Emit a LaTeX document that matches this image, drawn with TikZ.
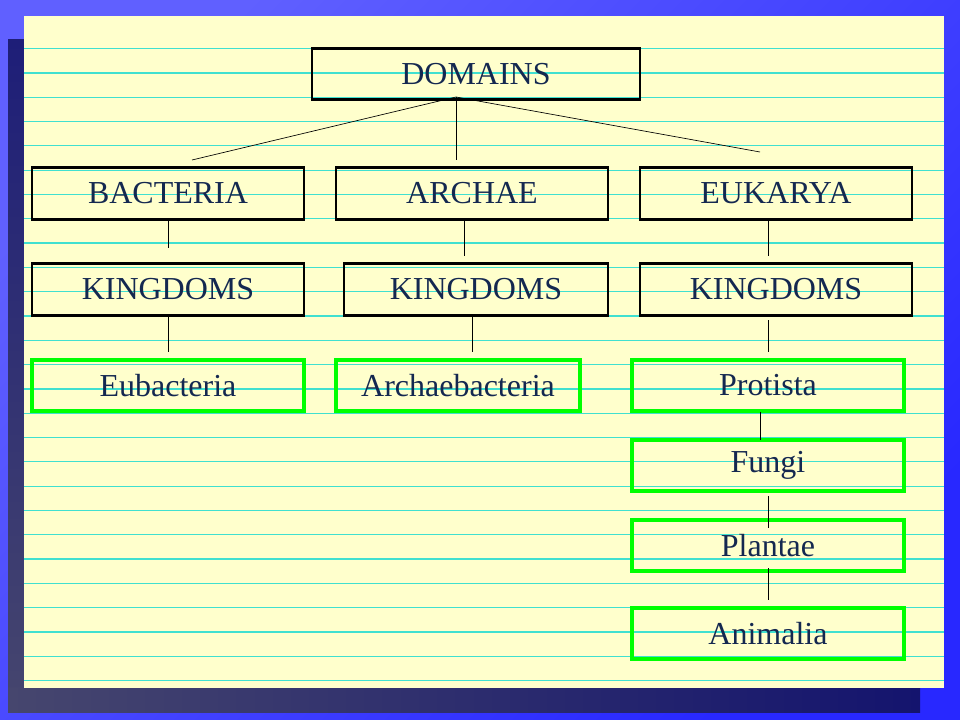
\documentclass[tikz,border=0pt]{standalone}
\usepackage{fontspec}
\setmainfont{Liberation Serif}
\definecolor{txt}{RGB}{20,40,80}
\definecolor{paper}{RGB}{255,255,204}
\definecolor{rule}{RGB}{64,224,208}
\definecolor{grn}{RGB}{0,255,0}
\begin{document}
\begin{tikzpicture}[x=0.75pt,y=-0.75pt,
  bx/.style={draw=black,line width=2.2pt,minimum height=38.5pt,font=\fontsize{24}{27}\selectfont,text=txt,inner sep=0pt},
  gb/.style={bx,draw=grn,line width=3pt},
  cn/.style={draw=black,line width=0.5pt}]
\useasboundingbox (0,0) rectangle (960,720);
\shade[shading=axis,left color={rgb,255:red,96;green,96;blue,255},right color={rgb,255:red,40;green,40;blue,255},shading angle=45] (0,0) rectangle (960,720);
\shade[top color={rgb,255:red,30;green,30;blue,120},bottom color={rgb,255:red,70;green,70;blue,110}] (8,40) rectangle (24,712);
\shade[left color={rgb,255:red,70;green,70;blue,110},right color={rgb,255:red,20;green,20;blue,110}] (8,688) rectangle (920,712);
\fill[paper] (24,16) rectangle (944,688);
\foreach \i in {0,...,26} \draw[rule,line width=0.9pt] (24,48.7+24.3*\i) -- (944,48.7+24.3*\i);
\node[bx,minimum width=246pt] (dom) at (476,74) {DOMAINS};
\node[bx,minimum width=204pt] (bac) at (168,193.5) {BACTERIA};
\node[bx,minimum width=204pt] (arc) at (472,193.5) {ARCHAE};
\node[bx,minimum width=204pt] (euk) at (776,193.5) {EUKARYA};
\node[bx,minimum width=204pt] (k1) at (168,289.5) {KINGDOMS};
\node[bx,minimum width=198pt] (k2) at (476,289.5) {KINGDOMS};
\node[bx,minimum width=204pt] (k3) at (776,289.5) {KINGDOMS};
\node[gb,minimum width=204pt] (eub) at (168,385.5) {Eubacteria};
\node[gb,minimum width=183pt] (arb) at (458,385.5) {Archaebacteria};
\node[gb,minimum width=204pt] (pro) at (768,385.5) {Protista};
\node[gb,minimum width=204pt] (fun) at (768,465.5) {Fungi};
\node[gb,minimum width=204pt] (pla) at (768,545.5) {Plantae};
\node[gb,minimum width=204pt] (ani) at (768,633.5) {Animalia};
\coordinate (d0) at (456,97);
\coordinate (b0) at (192,160); \coordinate (a0) at (456,160); \coordinate (e0) at (760,152);
\draw[cn] (d0) -- (b0); \draw[cn] (d0) -- (a0); \draw[cn] (d0) -- (e0);
\draw[cn] (168,220) -- (168,248);
\draw[cn] (464,220) -- (464,256);
\draw[cn] (768,220) -- (768,256);
\draw[cn] (168,316) -- (168,352);
\draw[cn] (472,316) -- (472,352);
\draw[cn] (768,320) -- (768,352);
\draw[cn] (760,412) -- (760,440);
\draw[cn] (768,496) -- (768,528);
\draw[cn] (768,568) -- (768,600);
\end{tikzpicture}
\end{document}
